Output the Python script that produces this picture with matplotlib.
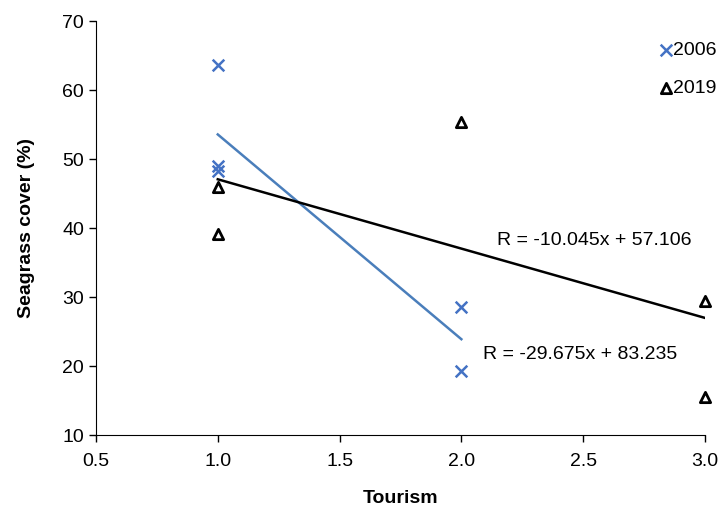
import matplotlib.pyplot as plt

plt.rcParams['font.family'] = ['Liberation Sans', 'DejaVu Sans']

# Seagrass cover against tourism level
tourism_2006 = [1, 1, 1, 2, 2]
cover_2006 = [63.6, 49.0, 48.3, 28.6, 19.3]

tourism_2019 = [1, 1, 2, 3, 3]
cover_2019 = [45.9, 39.1, 55.3, 29.4, 15.5]

# Linear fit equations (slope, intercept)
fit_2006 = (-29.675, 83.235)
fit_2019 = (-10.045, 57.106)

fs = 14

fig = plt.figure(figsize=(7.2, 5.05), dpi=100)
ax = fig.add_axes([0.1333, 0.1386, 0.8458, 0.8198])

ax.scatter(tourism_2006, cover_2006, marker='x', s=70, color='#4472C4',
           linewidths=1.8, label='2006', zorder=3, clip_on=False)
ax.scatter(tourism_2019, cover_2019, marker='^', s=55, facecolors='white',
           edgecolors='black', linewidths=2, label='2019', zorder=3, clip_on=False)

x06 = [min(tourism_2006), max(tourism_2006)]
ax.plot(x06, [fit_2006[0] * x + fit_2006[1] for x in x06],
        color='#4A7EBB', lw=1.8, zorder=2)
x19 = [min(tourism_2019), max(tourism_2019)]
ax.plot(x19, [fit_2019[0] * x + fit_2019[1] for x in x19],
        color='black', lw=1.8, zorder=2)

ax.text(2.146, 38.2, f'R = {fit_2019[0]:.3f}x + {fit_2019[1]:.3f}', fontsize=fs,
        va='center', ha='left')
ax.text(2.089, 21.7, f'R = {fit_2006[0]:.3f}x + {fit_2006[1]:.3f}', fontsize=fs,
        va='center', ha='left')

ax.set_xlim(0.5, 3.0)
ax.set_ylim(10, 70)
ax.set_xticks([0.5, 1.0, 1.5, 2.0, 2.5, 3.0])
ax.set_xticklabels(['0.5', '1.0', '1.5', '2.0', '2.5', '3.0'])
ax.set_yticks(range(10, 71, 10))
ax.tick_params(direction='out', length=5, width=1, labelsize=fs)
ax.tick_params(axis='x', pad=8)
ax.spines['top'].set_visible(False)
ax.spines['right'].set_visible(False)

ax.set_xlabel('Tourism', fontsize=fs, fontweight='bold', labelpad=14)
ax.set_ylabel('Seagrass cover (%)', fontsize=fs, fontweight='bold', labelpad=20)

ax.legend(loc='upper right', bbox_to_anchor=(1.032, 0.970), frameon=False,
          handlelength=0.5, handletextpad=0.1, labelspacing=1.05, fontsize=fs,
          borderaxespad=0)

fig.savefig('out.png', dpi=100)
